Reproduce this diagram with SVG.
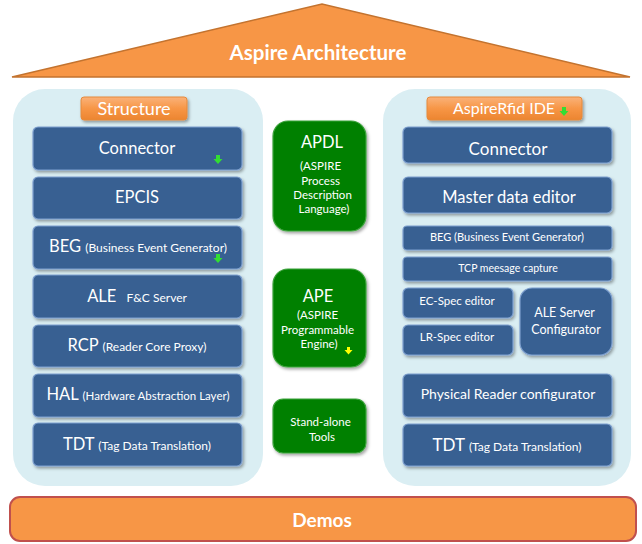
<svg xmlns="http://www.w3.org/2000/svg" width="642" height="544" viewBox="0 0 642 544">
<defs>
<style>
.t{font-family:Lato,"Open Sans","Liberation Sans",sans-serif;fill:#fff}
.blk{fill:#376092;stroke:#7FA0CF;stroke-width:1.2}
.grn{fill:#008000;stroke:#3DA33D;stroke-width:1.2}
.pnl{fill:#DAEEF3}
.lbl{fill:url(#og);stroke:#E58A3C;stroke-width:1}
.arr{fill:#33DD33}
</style>
<linearGradient id="og" x1="0" y1="0" x2="0" y2="1">
<stop offset="0" stop-color="#FAB27A"/>
<stop offset="0.5" stop-color="#F79646"/>
<stop offset="1" stop-color="#EC8530"/>
</linearGradient>
<filter id="sh" x="-10%" y="-10%" width="125%" height="130%">
<feDropShadow dx="1.5" dy="2" stdDeviation="1.5" flood-color="#000" flood-opacity="0.35"/>
</filter>
</defs>

<g id="roof">
<polygon points="12,77 322,4 630,77" fill="#F79646" stroke="#C3732F" stroke-width="1.5"/>
<text class="t" x="318" y="60" font-size="20.5" font-weight="bold" text-anchor="middle">Aspire Architecture</text>
</g>

<g id="panel-left"><rect class="pnl" x="13" y="89" width="250" height="397" rx="32"/></g>
<g id="panel-right"><rect class="pnl" x="383" y="89" width="248" height="397" rx="32"/></g>

<g id="structure-label">
<rect class="lbl" x="81" y="97" width="106" height="23" rx="3" filter="url(#sh)"/>
<text class="t" x="134" y="115" font-size="18" text-anchor="middle">Structure</text>
</g>
<g id="ide-label">
<rect class="lbl" x="427" y="97" width="155" height="23" rx="3" filter="url(#sh)"/>
<text class="t" x="504" y="114" font-size="16" text-anchor="middle">AspireRfid IDE</text>
<path class="arr" d="M562,107 h4 v4 h2.5 l-4.5,5 l-4.5,-5 h2.5 z"/>
</g>

<g id="l-connector">
<rect class="blk" x="33" y="127" width="209" height="43" rx="5" filter="url(#sh)"/>
<text class="t" x="137" y="154" font-size="16.5" text-anchor="middle">Connector</text>
<path class="arr" d="M216,155 h4 v4 h2.5 l-4.5,5 l-4.5,-5 h2.5 z"/>
</g>
<g id="l-epcis">
<rect class="blk" x="33" y="177" width="209" height="42" rx="5" filter="url(#sh)"/>
<text class="t" x="137" y="203" font-size="16.5" text-anchor="middle">EPCIS</text>
</g>
<g id="l-beg">
<rect class="blk" x="33" y="226" width="209" height="43" rx="5" filter="url(#sh)"/>
<text class="t" x="138" y="252" font-size="16.5" text-anchor="middle">BEG <tspan font-size="12">(Business Event Generator)</tspan></text>
<path class="arr" d="M216,254 h4 v4 h2.5 l-4.5,5 l-4.5,-5 h2.5 z"/>
</g>
<g id="l-ale">
<rect class="blk" x="33" y="275" width="209" height="43" rx="5" filter="url(#sh)"/>
<text class="t" x="137" y="302" font-size="16.5" text-anchor="middle">ALE <tspan font-size="12" dx="6">F&amp;C Server</tspan></text>
</g>
<g id="l-rcp">
<rect class="blk" x="33" y="325" width="209" height="42" rx="5" filter="url(#sh)"/>
<text class="t" x="137" y="351" font-size="16.5" text-anchor="middle">RCP <tspan font-size="12">(Reader Core Proxy)</tspan></text>
</g>
<g id="l-hal">
<rect class="blk" x="33" y="374" width="209" height="43" rx="5" filter="url(#sh)"/>
<text class="t" x="138" y="400" font-size="16.5" text-anchor="middle">HAL <tspan font-size="11.5">(Hardware Abstraction Layer)</tspan></text>
</g>
<g id="l-tdt">
<rect class="blk" x="33" y="423" width="209" height="43" rx="5" filter="url(#sh)"/>
<text class="t" x="137" y="450" font-size="16.5" text-anchor="middle">TDT <tspan font-size="12">(Tag Data Translation)</tspan></text>
</g>

<g id="apdl">
<rect class="grn" x="273" y="121" width="93" height="110" rx="15" filter="url(#sh)"/>
<text class="t" x="322" y="148" font-size="16.5" text-anchor="middle">APDL</text>
<text class="t" font-size="11.5" text-anchor="middle">
<tspan x="322" y="170">(ASPIRE</tspan>
<tspan x="322" y="185">Process</tspan>
<tspan x="324" y="199">Description</tspan>
<tspan x="324" y="213">Language)</tspan>
</text>
</g>
<g id="ape">
<rect class="grn" x="273" y="269" width="93" height="98" rx="15" filter="url(#sh)"/>
<text class="t" x="318" y="302" font-size="16.5" text-anchor="middle">APE</text>
<text class="t" font-size="11.5" text-anchor="middle">
<tspan x="319" y="319">(ASPIRE</tspan>
<tspan x="319" y="334">Programmable</tspan>
<tspan x="319" y="348">Engine)</tspan>
</text>
<path d="M347,347 h3 v3 h2.5 l-4,4.5 l-4,-4.5 h2.5 z" fill="#FFFF00"/>
</g>
<g id="standalone">
<rect class="grn" x="273" y="399" width="93" height="54" rx="10" filter="url(#sh)"/>
<text class="t" font-size="11.5" text-anchor="middle">
<tspan x="322" y="426">Stand-alone</tspan>
<tspan x="322" y="441">Tools</tspan>
</text>
</g>

<g id="r-connector">
<rect class="blk" x="403" y="127" width="209" height="36" rx="5" filter="url(#sh)"/>
<text class="t" x="508" y="155" font-size="17" text-anchor="middle">Connector</text>
</g>
<g id="r-master">
<rect class="blk" x="403" y="177" width="209" height="36" rx="5" filter="url(#sh)"/>
<text class="t" x="509" y="203" font-size="16.5" text-anchor="middle">Master data editor</text>
</g>
<g id="r-beg">
<rect class="blk" x="403" y="226" width="209" height="24" rx="4" filter="url(#sh)"/>
<text class="t" x="507" y="241" font-size="11" text-anchor="middle">BEG (Business Event Generator)</text>
</g>
<g id="r-tcp">
<rect class="blk" x="403" y="257" width="209" height="24" rx="4" filter="url(#sh)"/>
<text class="t" x="508" y="272" font-size="10.5" text-anchor="middle">TCP meesage capture</text>
</g>
<g id="r-ecspec">
<rect class="blk" x="403" y="288" width="110" height="30" rx="5" filter="url(#sh)"/>
<text class="t" x="457" y="305" font-size="11.5" text-anchor="middle">EC-Spec editor</text>
</g>
<g id="r-lrspec">
<rect class="blk" x="403" y="325" width="110" height="30" rx="5" filter="url(#sh)"/>
<text class="t" x="457" y="341" font-size="11.5" text-anchor="middle">LR-Spec editor</text>
</g>
<g id="r-aleserver">
<rect class="blk" x="520" y="288" width="92" height="67" rx="12" filter="url(#sh)"/>
<text class="t" font-size="12.5" text-anchor="middle">
<tspan x="566" y="317">ALE Server</tspan>
<tspan x="566" y="334">Configurator</tspan>
</text>
</g>
<g id="r-physical">
<rect class="blk" x="403" y="374" width="209" height="43" rx="5" filter="url(#sh)"/>
<text class="t" x="508" y="399" font-size="14" text-anchor="middle">Physical Reader configurator</text>
</g>
<g id="r-tdt">
<rect class="blk" x="403" y="424" width="209" height="42" rx="5" filter="url(#sh)"/>
<text class="t" x="507" y="451" font-size="17" text-anchor="middle">TDT <tspan font-size="12">(Tag Data Translation)</tspan></text>
</g>

<g id="demos">
<rect x="10" y="497" width="626" height="44" rx="10" fill="#F79646" stroke="#C0504D" stroke-width="2"/>
<text class="t" x="322" y="527" font-size="19" font-weight="bold" text-anchor="middle">Demos</text>
</g>

<g id="connectors"></g>
</svg>
